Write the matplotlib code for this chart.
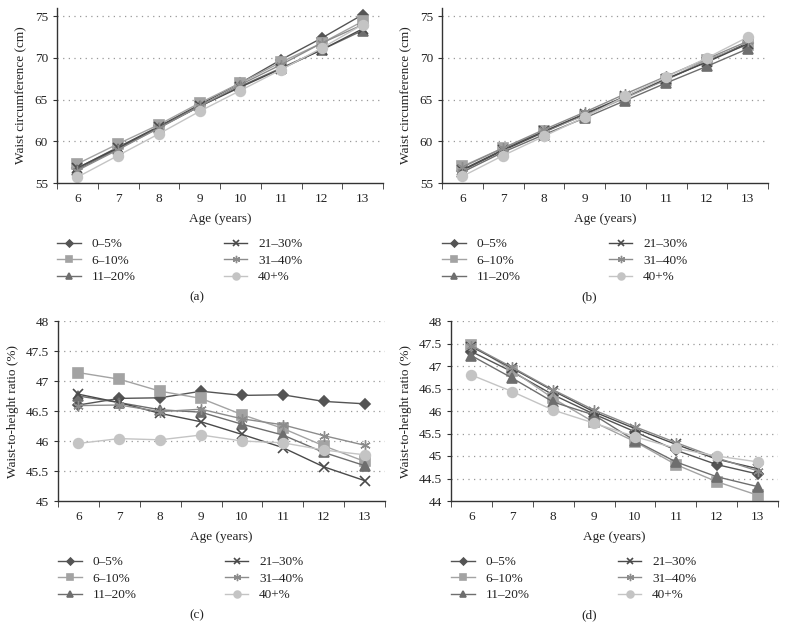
import numpy as np
import matplotlib.pyplot as plt

plt.rcParams['font.family'] = ['Liberation Serif', 'DejaVu Serif']
plt.rcParams['font.size'] = 9

ages = [6, 7, 8, 9, 10, 11, 12, 13]
groups = ['0–5%', '6–10%', '11–20%', '21–30%', '31–40%', '40+%']

# (a) waist circumference
wc_a_0_5 = [56.8, 59.3, 61.8, 64.4, 67.0, 69.8, 72.4, 75.2]
wc_a_6_10 = [57.3, 59.7, 62.0, 64.6, 67.0, 69.5, 71.8, 74.4]
wc_a_11_20 = [56.6, 59.1, 61.6, 64.2, 66.6, 68.8, 71.0, 73.3]
wc_a_21_30 = [56.8, 59.2, 61.7, 64.2, 66.5, 68.7, 71.0, 73.5]
wc_a_31_40 = [56.5, 59.0, 61.6, 64.2, 66.8, 69.2, 71.8, 74.0]
wc_a_40p = [55.7, 58.3, 60.9, 63.6, 66.1, 68.6, 71.2, 74.0]

# (b) waist circumference
wc_b_0_5 = [56.5, 58.9, 61.1, 63.2, 65.3, 67.4, 69.6, 71.8]
wc_b_6_10 = [57.0, 59.2, 61.2, 63.1, 65.2, 67.4, 69.8, 71.6]
wc_b_11_20 = [56.3, 58.7, 60.8, 62.8, 64.9, 67.0, 69.0, 71.1]
wc_b_21_30 = [56.6, 59.0, 61.2, 63.3, 65.4, 67.5, 69.5, 71.7]
wc_b_31_40 = [56.9, 59.2, 61.4, 63.5, 65.7, 67.8, 69.9, 72.0]
wc_b_40p = [55.8, 58.3, 60.6, 62.9, 65.4, 67.7, 70.0, 72.5]

# (c) waist-to-height ratio
wh_c_0_5 = [46.60, 46.71, 46.72, 46.83, 46.76, 46.77, 46.66, 46.62]
wh_c_6_10 = [47.14, 47.03, 46.83, 46.71, 46.44, 46.21, 45.92, 45.66]
wh_c_11_20 = [46.75, 46.64, 46.52, 46.48, 46.28, 46.10, 45.81, 45.59]
wh_c_21_30 = [46.78, 46.64, 46.46, 46.32, 46.11, 45.89, 45.57, 45.34]
wh_c_31_40 = [46.59, 46.60, 46.49, 46.53, 46.37, 46.27, 46.09, 45.93]
wh_c_40p = [45.96, 46.04, 46.02, 46.10, 46.00, 45.97, 45.85, 45.77]

# (d) waist-to-height ratio
wh_d_0_5 = [47.32, 46.87, 46.36, 45.93, 45.54, 45.13, 44.81, 44.60]
wh_d_6_10 = [47.47, 46.90, 46.28, 45.75, 45.32, 44.81, 44.43, 44.13]
wh_d_11_20 = [47.23, 46.73, 46.20, 45.91, 45.34, 44.87, 44.54, 44.32]
wh_d_21_30 = [47.43, 46.95, 46.45, 45.98, 45.61, 45.26, 44.93, 44.72]
wh_d_31_40 = [47.45, 46.97, 46.47, 46.02, 45.65, 45.30, 44.96, 44.67]
wh_d_40p = [46.80, 46.43, 46.02, 45.73, 45.43, 45.17, 45.00, 44.87]

colors = ['#545454', '#a3a3a3', '#6e6e6e', '#4a4a4a', '#8c8c8c', '#c4c4c4']
markers = ['D', 's', '^', 'x', (6, 2, 0), 'o']
msizes = [5, 6.5, 7, 6.5, 7.5, 7]
mews = [1.2, 1.2, 1.2, 1.2, 1.0, 1.2]

panels = [
    ([wc_a_0_5, wc_a_6_10, wc_a_11_20, wc_a_21_30, wc_a_31_40, wc_a_40p],
     [57 / 786, 1 - 183 / 630, 326 / 786, 175 / 630], (55, 76), [55, 60, 65, 70, 75],
     ['55', '60', '65', '70', '75'], 'Waist circumference (cm)', '(a)', 0.25),
    ([wc_b_0_5, wc_b_6_10, wc_b_11_20, wc_b_21_30, wc_b_31_40, wc_b_40p],
     [442 / 786, 1 - 183 / 630, 326 / 786, 175 / 630], (55, 76), [55, 60, 65, 70, 75],
     ['55', '60', '65', '70', '75'], 'Waist circumference (cm)', '(b)', 0.75),
    ([wh_c_0_5, wh_c_6_10, wh_c_11_20, wh_c_21_30, wh_c_31_40, wh_c_40p],
     [58 / 786, 1 - 501 / 630, 327 / 786, 180 / 630], (45, 48), [45, 45.5, 46, 46.5, 47, 47.5, 48],
     ['45', '45.5', '46', '46.5', '47', '47.5', '48'], 'Waist-to-height ratio (%)', '(c)', 0.25),
    ([wh_d_0_5, wh_d_6_10, wh_d_11_20, wh_d_21_30, wh_d_31_40, wh_d_40p],
     [451 / 786, 1 - 501 / 630, 327 / 786, 180 / 630], (44, 48), [44, 44.5, 45, 45.5, 46, 46.5, 47, 47.5, 48],
     ['44', '44.5', '45', '45.5', '46', '46.5', '47', '47.5', '48'], 'Waist-to-height ratio (%)', '(d)', 0.75),
]

fig = plt.figure(figsize=(7.86, 6.30), dpi=100)
text_col = '#222222'

for series, rect, ylim, yticks, ylabels, ylab, tag, xc in panels:
    ax = fig.add_axes(rect)
    for i, vals in enumerate(series):
        ax.plot(ages, vals, color=colors[i], marker=markers[i], markersize=msizes[i],
                lw=1, mec=colors[i], mfc=colors[i], mew=mews[i], label=groups[i])
    ax.set_xlim(5.5, 13.5)
    ax.set_ylim(*ylim)
    ax.set_xticks(ages)
    ax.set_xticks(np.arange(5.5, 14, 1), minor=True)
    ax.tick_params(axis='x', which='major', length=0, pad=7, labelsize=9.5, colors=text_col)
    ax.tick_params(axis='x', which='minor', length=4, direction='out', color='#333333')
    ax.set_yticks(yticks)
    ax.set_yticklabels(ylabels)
    ax.tick_params(axis='y', length=3, direction='out', labelsize=9.5, colors=text_col, color='#333333')
    for y in yticks[1:]:
        ax.axhline(y, color='#999999', lw=0.9, ls=(0, (1, 3.5)), zorder=0)
    for s in ['top', 'right']:
        ax.spines[s].set_visible(False)
    for s in ['left', 'bottom']:
        ax.spines[s].set_color('#333333')
        ax.spines[s].set_linewidth(1)
    ax.set_xlabel('Age (years)', fontsize=9.5, color=text_col, labelpad=6)
    ax.set_ylabel(ylab, fontsize=9.5, color=text_col, labelpad=5)
    pos = ax.get_position()
    h_px = rect[3] * 630
    leg = ax.legend(ncol=2, loc='upper left', bbox_to_anchor=(0.0, -55 / h_px), frameon=False,
                    borderpad=0, borderaxespad=0, handlelength=1.8, handletextpad=0.8,
                    columnspacing=6.7, labelspacing=0.32, fontsize=9.5, markerscale=0.7,
                    alignment='left')
    for t in leg.get_texts():
        t.set_color(text_col)
        t.set_ha('left')
    fig.text(xc, pos.y0 - 114 / 630, tag, ha='center', va='center', fontsize=9.5, color=text_col)

fig.savefig('out.png', dpi=100)
